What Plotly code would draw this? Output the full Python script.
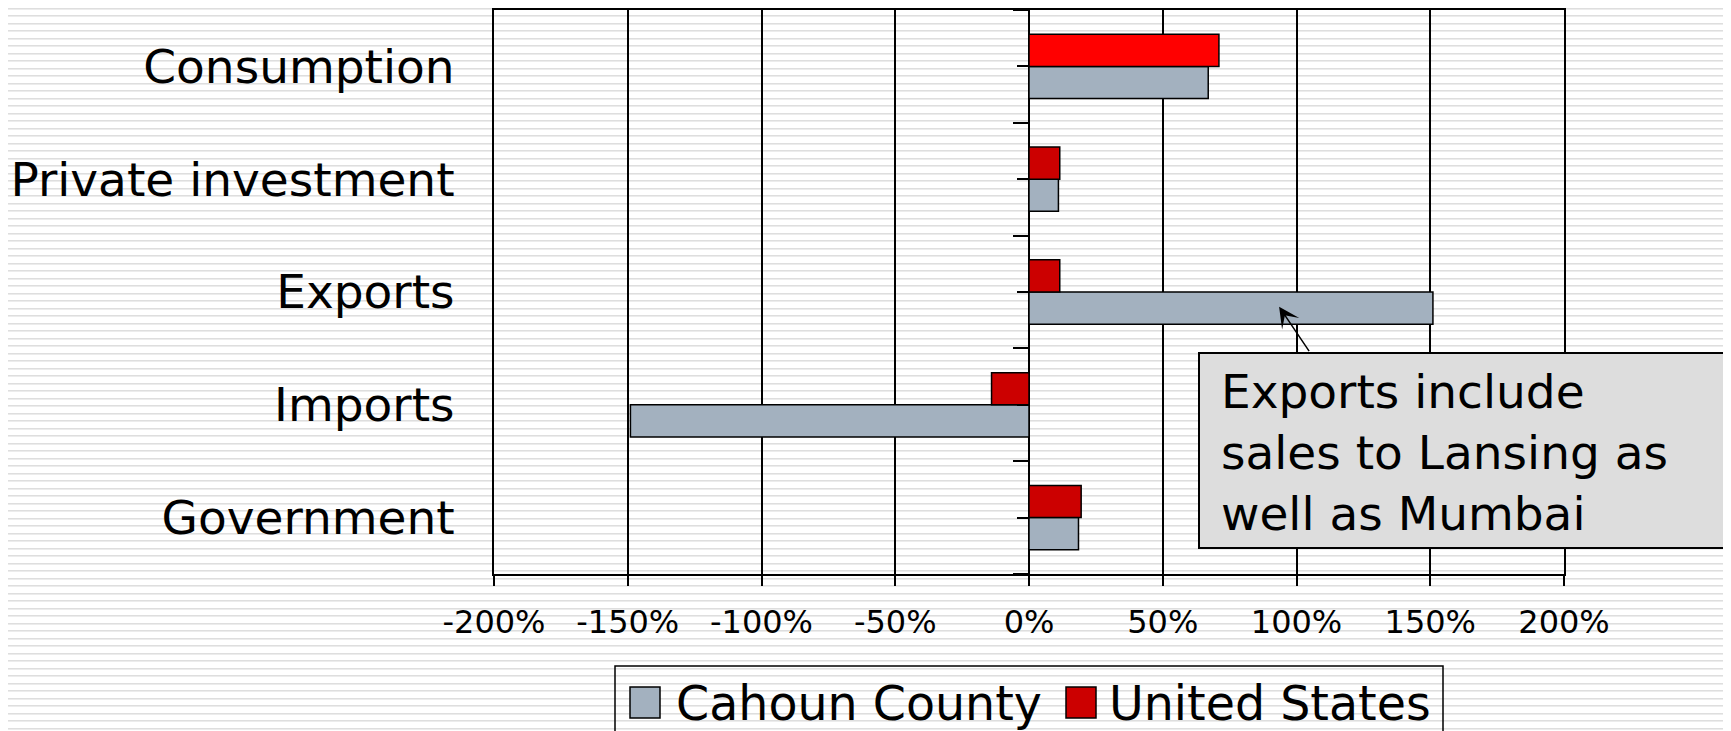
import base64
import struct
import zlib

import plotly.graph_objects as go

# data (percent)
categories = ["Consumption", "Private investment", "Exports", "Imports", "Government"]
cahoun_county = [67, 11, 151, -149, 18.5]
united_states = [71, 11.5, 11.5, -14, 19.5]
x_ticks = [-200, -150, -100, -50, 0, 50, 100, 150, 200]
x_tick_labels = ["-200%", "-150%", "-100%", "-50%", "0%", "50%", "100%", "150%", "200%"]
series_names = ["Cahoun County", "United States"]
note_text = "Exports include<br>sales to Lansing as<br>well as Mumbai"

# the page body has an 8px margin, so the figure starts at (8, 8)
OFF = 8
PAGE_W, PAGE_H = 1731, 731
W, H = PAGE_W - OFF, PAGE_H - OFF
# plot area in page pixels: x 494..1564, y 10..574
L, T = 494 - OFF, 10 - OFF
R, B = W - (1564 - OFF), H - (574 - OFF)
PW, PH = W - L - R, H - T - B

FONT = "DejaVu Sans"
GRAY = "#A3B1BF"
RED = "#CC0000"
us_colors = ["#FF0000"] + [RED] * (len(categories) - 1)


def px(x):
    """page pixel x -> paper fraction"""
    return (x - OFF - L) / PW


def py(y):
    """page pixel y -> paper fraction"""
    return 1 - (y - OFF - T) / PH


def chunk(tag, data):
    return (
        struct.pack(">I", len(data))
        + tag
        + data
        + struct.pack(">I", zlib.crc32(tag + data) & 0xFFFFFFFF)
    )


def stripe_png():
    """Striped slide background as a grayscale png."""
    shade = {}
    k = 0
    while True:
        s = int(0.5 + 7.5 * k)
        if s >= PAGE_H:
            break
        shade[s] = 222
        shade[s + 1] = 236
        k += 1
    raw = b"".join(
        b"\x00" + bytes([shade.get(y + OFF, 255)]) * W for y in range(H)
    )
    png = b"\x89PNG\r\n\x1a\n"
    png += chunk(b"IHDR", struct.pack(">IIBBBBB", W, H, 8, 0, 0, 0, 0))
    png += chunk(b"IDAT", zlib.compress(raw, 9))
    png += chunk(b"IEND", b"")
    return "data:image/png;base64," + base64.b64encode(png).decode()


fig = go.Figure()
fig.add_trace(
    go.Bar(
        y=categories,
        x=cahoun_county,
        orientation="h",
        name=series_names[0],
        marker=dict(color=GRAY, line=dict(color="black", width=1.5)),
    )
)
fig.add_trace(
    go.Bar(
        y=categories,
        x=united_states,
        orientation="h",
        name=series_names[1],
        marker=dict(color=us_colors, line=dict(color="black", width=1.5)),
    )
)
# invisible helpers so the tick-only axes at 0% get drawn
for ax_name in ["y2", "y3"]:
    fig.add_trace(
        go.Scatter(
            x=[0] * len(categories),
            y=categories,
            yaxis=ax_name,
            mode="markers",
            marker=dict(opacity=0),
            hoverinfo="skip",
            showlegend=False,
        )
    )

tick_axis = dict(
    overlaying="y",
    matches="y",
    anchor="free",
    position=0.5,
    side="left",
    showline=False,
    showgrid=False,
    zeroline=False,
    showticklabels=False,
    ticks="outside",
    tickwidth=2,
    tickcolor="black",
)

fig.update_layout(
    width=W,
    height=H,
    margin=dict(l=L, r=R, t=T, b=B, autoexpand=False),
    paper_bgcolor="white",
    plot_bgcolor="rgba(0,0,0,0)",
    font=dict(family=FONT, color="black"),
    showlegend=False,
    barmode="group",
    bargap=0.43,
    bargroupgap=0,
    xaxis=dict(
        range=[-200, 200],
        tickvals=x_ticks,
        ticktext=x_tick_labels,
        showgrid=True,
        gridcolor="black",
        gridwidth=1.5,
        zeroline=True,
        zerolinecolor="black",
        zerolinewidth=2,
        showline=True,
        mirror=True,
        linecolor="black",
        linewidth=2,
        ticks="outside",
        ticklen=10,
        tickwidth=1.5,
        tickcolor="black",
        tickfont=dict(size=32),
        ticklabelstandoff=9,
        automargin=False,
    ),
    yaxis=dict(
        type="category",
        categoryorder="array",
        categoryarray=categories[::-1],
        range=[-0.5, len(categories) - 0.5],
        showline=True,
        mirror=True,
        linecolor="black",
        linewidth=2,
        showgrid=False,
        ticks="",
        tickfont=dict(size=47),
        ticklabelstandoff=28,
        automargin=False,
    ),
    yaxis2=dict(tick_axis, ticklen=16, tickson="boundaries"),
    yaxis3=dict(tick_axis, ticklen=12, tickson="labels"),
)

fig.add_layout_image(
    source=stripe_png(),
    xref="paper",
    yref="paper",
    x=-L / PW,
    y=1 + T / PH,
    sizex=W / PW,
    sizey=H / PH,
    xanchor="left",
    yanchor="top",
    sizing="stretch",
    layer="below",
)

# arrow pointing at the Exports bar
fig.add_annotation(
    x=93.5,
    y=1.87,
    xref="x",
    yref="y",
    text="",
    showarrow=True,
    ax=31,
    ay=46,
    arrowhead=3,
    arrowsize=2.3,
    arrowwidth=1.5,
    arrowcolor="black",
    standoff=0,
)
# note box: gray rectangle on top of the grid, text on top of it
fig.add_shape(
    type="rect",
    xref="paper",
    yref="paper",
    x0=px(1199),
    x1=px(1728),
    y0=py(353),
    y1=py(548),
    line=dict(color="black", width=2),
    fillcolor="#DDDDDD",
    layer="above",
)
fig.add_annotation(
    x=px(1219),
    y=py(452),
    xref="paper",
    yref="paper",
    xanchor="left",
    yanchor="middle",
    text=note_text,
    showarrow=False,
    align="left",
    font=dict(size=47),
)

# legend box drawn by hand so the swatches can be large
fig.add_shape(
    type="rect",
    xref="paper",
    yref="paper",
    x0=px(615),
    x1=px(1443),
    y0=py(666),
    y1=py(745),
    line=dict(color="black", width=1.5),
    fillcolor="rgba(0,0,0,0)",
)
for name, color, sx, tx in [
    (series_names[0], GRAY, 630, 674),
    (series_names[1], RED, 1066, 1107),
]:
    fig.add_shape(
        type="rect",
        xref="paper",
        yref="paper",
        x0=px(sx),
        x1=px(sx + 30),
        y0=py(687),
        y1=py(718),
        line=dict(color="black", width=1.5),
        fillcolor=color,
    )
    fig.add_annotation(
        x=px(tx),
        y=py(703),
        xref="paper",
        yref="paper",
        xanchor="left",
        yanchor="middle",
        text=name,
        showarrow=False,
        font=dict(size=47.5),
    )

fig.write_html("out.html")
